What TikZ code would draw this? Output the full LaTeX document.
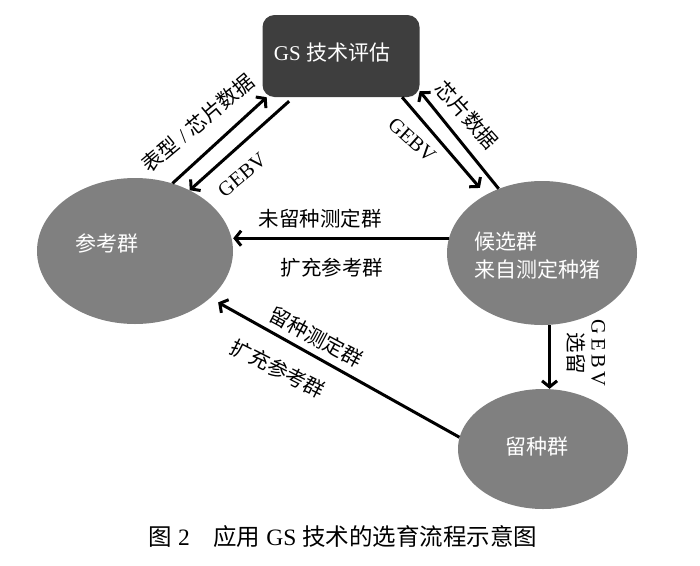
\documentclass[tikz,border=0pt]{standalone}
\usepackage{fontspec}
\setmainfont{Liberation Serif}
\newfontfamily\cjk{Noto Sans CJK SC}
\usetikzlibrary{arrows.meta, shapes.geometric, calc}
\definecolor{PopGray}{RGB}{128,128,128}
\definecolor{BoxGray}{RGB}{62,62,62}

\begin{document}
\begin{tikzpicture}[x=1pt, y=-1pt,
        flow/.style={line width=3pt, -{Straight Barb[length=6pt,width=15pt]}},
        pop/.style={ellipse, fill=PopGray, inner sep=0pt},
        lbl/.style={font=\fontsize{20.5}{23}\selectfont, inner sep=0pt},
        intext/.style={text=white, font=\fontsize{21}{28}\selectfont, align=left, inner sep=0pt}]
        \useasboundingbox (0,0) rectangle (700,565);

        % GS evaluation box
        \node [rectangle, rounded corners=12pt, fill=BoxGray, minimum width=157pt, minimum height=82pt] (box) at (341,56) {};
        \node [intext] (boxtext) at (332,53) {GS {\cjk 技术评估}};

        % Populations
        \node [pop, minimum width=196pt, minimum height=146pt] (ref) at (135,251) {};
        \node [intext] (reftext) at (107,243) {\cjk 参考群};
        \node [pop, minimum width=190pt, minimum height=144pt] (cand) at (542,253) {};
        \node [intext] (candtext) at (537,256) {\cjk 候选群\\\cjk 来自测定种猪};
        \node [pop, minimum width=170pt, minimum height=120pt] (keep) at (543,449) {};
        \node [intext] (keeptext) at (537,447) {\cjk 留种群};

        % Reference <-> GS box
        \draw [flow] (ref.61) -- (box.209);
        \draw [flow, shorten <=6pt] (box.221) -- (ref.48);
        \node [lbl, rotate=40] (phen) at (198,123) {{\cjk 表型} / {\cjk 芯片数据}};
        \node [lbl, rotate=40] (gebvl) at (242,175) {GEBV};

        % GS box <-> candidates
        \draw [flow, shorten >=9pt] (box.326) -- (cand.134);
        \draw [flow] (cand.124) -- (box.336);
        \node [lbl, rotate=-42] (gebvr) at (412,140) {GEBV};
        \node [lbl, rotate=-48] (chip) at (467,115) {\cjk 芯片数据};

        % Candidates -> reference
        \draw [flow] (cand.171) -- (cand.171 -| ref.east);
        \node [lbl] (untested) at (320,219) {\cjk 未留种测定群};
        \node [lbl] (expand1) at (332,268) {\cjk 扩充参考群};

        % Candidates -> kept
        \draw [flow] (cand.-84) -- (cand.-84 |- keep.north);
        \node [lbl, rotate=-90, align=center] (select) at (586,353) {G\,E\,B\,V\\{\cjk 选留}};

        % Kept -> reference
        \draw [flow, shorten >=9pt] (keep.172) -- (ref.-32);
        \node [lbl, rotate=-28] (tested) at (316,337) {\cjk 留种测定群};
        \node [lbl, rotate=-27] (expand2) at (278,369) {\cjk 扩充参考群};

        % Caption
        \node [lbl, font=\fontsize{23.5}{27}\selectfont] (caption) at (343,537) {{\cjk 图} 2\quad{\cjk 应用} GS {\cjk 技术的选育流程示意图}};
\end{tikzpicture}
\end{document}
